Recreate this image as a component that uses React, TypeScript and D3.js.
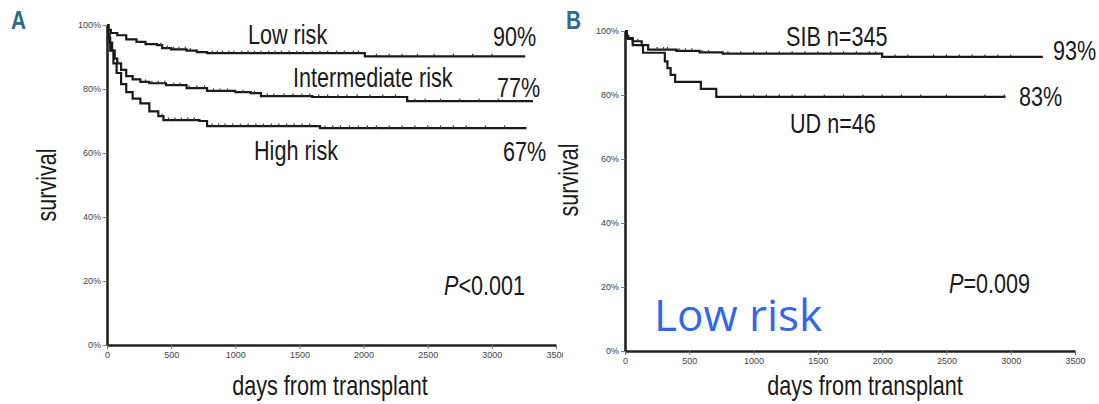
import React, { useEffect, useRef } from 'react';
import * as d3 from 'd3';

// ---- data (days, survival %) ----
const lowRisk = [[0,100],[10,98.5],[30,97.5],[80,96.8],[150,95.5],[230,94.7],[300,94],[390,93.7],[430,92.8],[500,92.4],[620,92],[700,91.5],[780,91.2],[2010,90.2],[3260,90.2]];
const intermediateRisk = [[0,100],[10,97],[20,94.5],[40,92],[60,89.5],[80,88],[110,86],[150,84],[200,83],[260,82.2],[330,81.8],[460,81.2],[620,80.3],[780,79.4],[1000,79],[1120,78.7],[1200,77.8],[1600,77.5],[2340,76.2],[3320,76.2]];
const highRisk = [[0,100],[10,96],[25,92],[50,88],[75,85],[110,81.5],[150,79],[200,77],[260,75.5],[330,73],[400,71.5],[440,70.3],[720,70],[780,68.4],[1660,67.8],[3270,67.8]];
const sib = [[0,100],[10,98.5],[25,97.5],[60,96.8],[130,95.6],[180,94.2],[400,93.8],[580,93.3],[760,92.9],[2000,91.9],[3250,91.9]];
const ud = [[0,100],[15,97.8],[60,95.6],[140,93.2],[310,90.5],[330,88.4],[355,86.3],[390,84.1],[590,81.9],[710,79.4],[2960,79.4]];

// censored observations (days)
const lowCensor = [420,470,520,560,610,650,700,820,860,900,950,990,1050,1100,1150,1200,1260,1310,1360,1420,1480,1530,1600,1660,1720,1790,1850,1920,1960,2100,2200,2300,2420,2550,2700,2850,3000];
const intCensor = [300,350,400,450,520,570,640,700,760,830,880,940,1000,1060,1150,1250,1300,1380,1450,1520,1580,1650,1720,1800,1870,1950,2050,2150,2250,2400,2480,2600,2750,2900,3050];
const highCensor = [430,480,530,580,630,680,820,870,920,980,1040,1100,1160,1220,1280,1340,1400,1460,1520,1580,1700,1760,1820,1890,1960,2030,2100,2200,2300,2400,2500,2600,2700,2800,2950,3100];
const sibCensor = [60,100,250,300,330,420,470,520,600,650,800,900,1000,1100,1200,1300,1400,1500,1600,1700,1800,1900,1950,2100,2200,2400,2500,2600,2700,2800,2900,3000];
const udCensor = [900,1000,1100,1200,1300,1400,1550,1700,1850,2000,2150,2300,2500,2800,2950];

const yTicks = [0, 20, 40, 60, 80, 100];
const xTicks = [0, 500, 1000, 1500, 2000, 2500, 3000, 3500];

const FONT = "'Liberation Sans', Arial, sans-serif";
const NARROW = 0.8;

const stepAt = (series, t) => {
  let v = series[0][1];
  for (const [d, s] of series) { if (d <= t) v = s; }
  return v;
};

// condensed text: Liberation Sans squeezed horizontally
const narrowText = (sel, x, y, size, anchor = "start", rotate = 0) => {
  return sel.append("text")
    .attr("transform", `translate(${x},${y}) rotate(${rotate}) scale(${NARROW},1)`)
    .attr("text-anchor", anchor)
    .attr("fill", "#1a1a1a")
    .style("font-family", FONT)
    .style("font-size", size + "px");
};

const drawPanel = (svg, cfg) => {
  const g = svg.append("g");
  if (cfg.clip) g.attr("clip-path", `url(#${cfg.clip})`);

  const x = d3.scaleLinear().domain([0, 3500]).range([cfg.left, cfg.right]);
  const y = d3.scaleLinear().domain([0, 100]).range([cfg.bottom, cfg.top]);

  // axes
  const ya = g.append("g")
    .attr("transform", `translate(${cfg.left},0)`)
    .call(d3.axisLeft(y).tickValues(yTicks).tickFormat(d => d + "%").tickSize(4).tickSizeOuter(0));
  const xa = g.append("g")
    .attr("transform", `translate(0,${cfg.bottom})`)
    .call(d3.axisBottom(x).tickValues(xTicks).tickFormat(d3.format("d")).tickSize(4).tickSizeOuter(0));
  [ya, xa].forEach(a => {
    a.select(".domain").attr("stroke", "#222").attr("stroke-width", 2.6);
    a.selectAll(".tick line").attr("stroke", "#777");
    a.selectAll(".tick text").attr("fill", "#444").style("font-size", "9px").style("font-family", FONT);
  });
  ya.selectAll(".tick text").attr("x", -6);

  const line = d3.line().x(d => x(d[0])).y(d => y(d[1])).curve(d3.curveStepAfter);
  cfg.curves.forEach(c => {
    g.append("path").datum(c.data)
      .attr("fill", "none").attr("stroke", "#1a1a1a").attr("stroke-width", 2.2)
      .attr("d", line);
    g.append("g").selectAll("line")
      .data(c.censor)
      .join("line")
      .attr("x1", d => x(d)).attr("x2", d => x(d))
      .attr("y1", d => y(stepAt(c.data, d)) - 2.5)
      .attr("y2", d => y(stepAt(c.data, d)) + 0.5)
      .attr("stroke", "#333").attr("stroke-width", 1.2);
  });

  // panel letter
  narrowText(svg, cfg.letterX, 29, 26)
    .attr("fill", "#2b6b8f").style("font-weight", "bold")
    .text(cfg.letter);

  // y label
  narrowText(svg, cfg.ylabX, cfg.ylabY, 27, "middle", -90).text("survival");

  // x label
  narrowText(svg, cfg.xlabX, 395, 27, "middle").text("days from transplant");

  cfg.labels.forEach(l => {
    const t = narrowText(svg, l.x, l.y, 27);
    if (l.italic) {
      t.append("tspan").style("font-style", "italic").text(l.italic);
      t.append("tspan").text(l.text);
    } else {
      t.text(l.text);
    }
  });
};

const App = () => {
  const svgRef = useRef();

  useEffect(() => {
    const svg = d3.select(svgRef.current);
    svg.selectAll("*").remove();

    svg.append("defs").append("clipPath").attr("id", "clipA")
      .append("rect").attr("x", 0).attr("y", 0).attr("width", 563).attr("height", 404);

    drawPanel(svg, {
      left: 107, right: 556, top: 25, bottom: 345, clip: "clipA",
      letter: "A", letterX: 11, ylabX: 56, ylabY: 185, xlabX: 330,
      curves: [
        { data: lowRisk, censor: lowCensor },
        { data: intermediateRisk, censor: intCensor },
        { data: highRisk, censor: highCensor },
      ],
      labels: [
        { x: 248, y: 44, text: "Low risk" },
        { x: 493, y: 46, text: "90%" },
        { x: 293, y: 87, text: "Intermediate risk" },
        { x: 497, y: 97, text: "77%" },
        { x: 254, y: 160, text: "High risk" },
        { x: 503, y: 161, text: "67%" },
        { x: 444, y: 295, italic: "P", text: "<0.001" },
      ],
    });

    drawPanel(svg, {
      left: 625, right: 1075, top: 31, bottom: 351,
      letter: "B", letterX: 566, ylabX: 578, ylabY: 180, xlabX: 865,
      curves: [
        { data: sib, censor: sibCensor },
        { data: ud, censor: udCensor },
      ],
      labels: [
        { x: 786, y: 46, text: "SIB n=345" },
        { x: 1053, y: 60, text: "93%" },
        { x: 790, y: 133, text: "UD n=46" },
        { x: 1019, y: 106, text: "83%" },
        { x: 949, y: 293, italic: "P", text: "=0.009" },
      ],
    });

    svg.append("text")
      .attr("x", 654).attr("y", 331)
      .attr("fill", "#3366ee").style("font-family", "'Open Sans', 'Noto Sans', sans-serif").style("font-size", "44px")
      .text("Low risk");
  }, []);

  return (
    <svg ref={svgRef} width={1099} height={404}
      style={{ position: 'absolute', left: 0, top: 0, background: '#fff' }}></svg>
  );
};

export default App;
